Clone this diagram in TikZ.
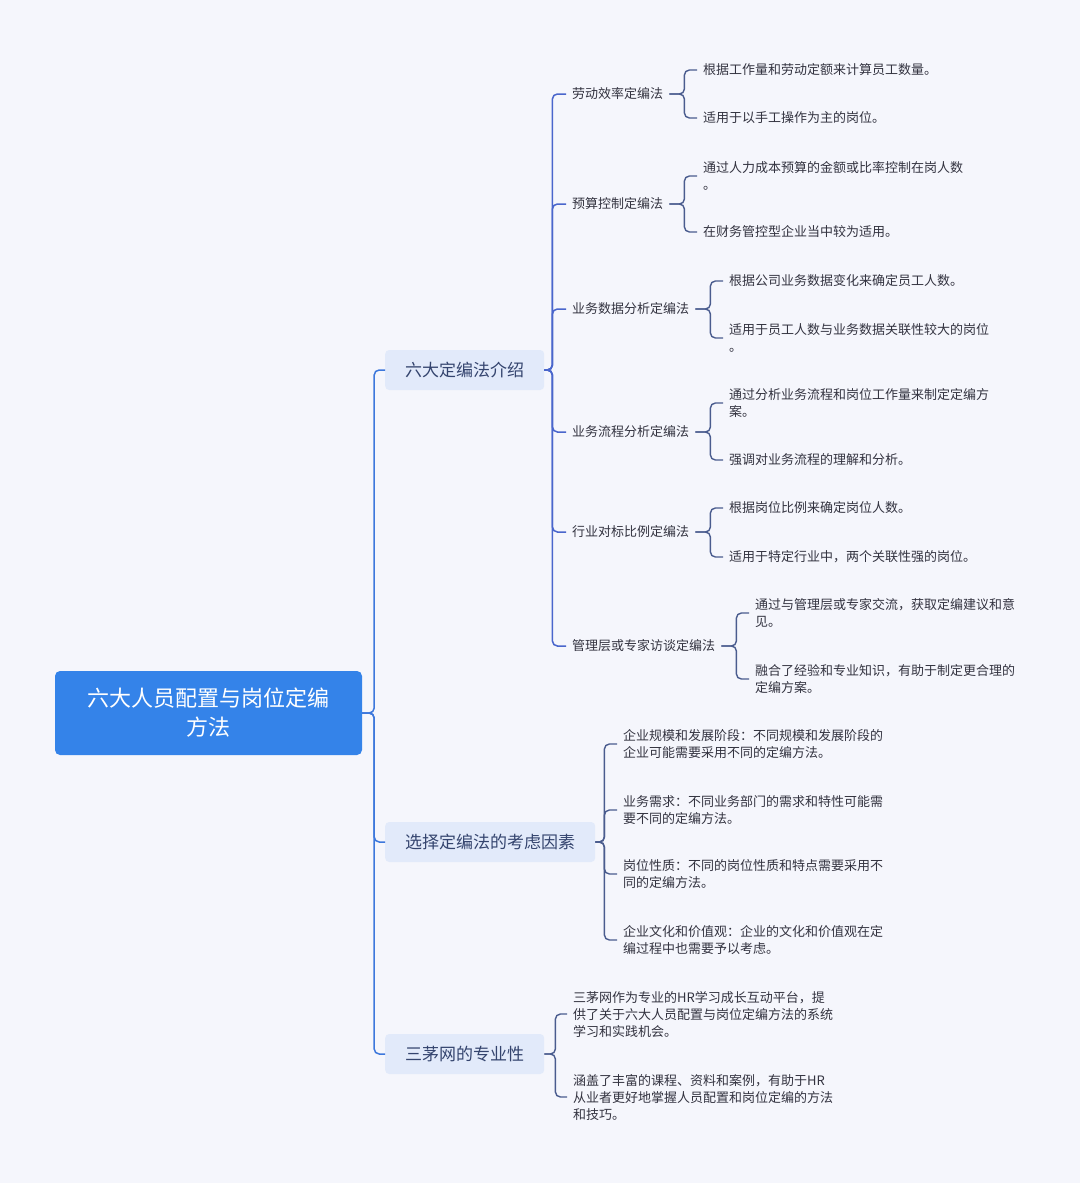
\documentclass[tikz,border=0pt]{standalone}
\usepackage{fontspec}
\setmainfont{Noto Sans CJK SC}
\usetikzlibrary{calc}
\definecolor{bg}{HTML}{F5F6FC}
\definecolor{rootblue}{HTML}{3483E9}
\definecolor{l1fill}{HTML}{E2EAFA}
\definecolor{l1text}{HTML}{34446E}
\definecolor{txt}{HTML}{333340}
\definecolor{trunk}{HTML}{3D78DC}
\definecolor{trunkb}{HTML}{4A66CC}
\definecolor{brk}{HTML}{4A5C8E}
\begin{document}
\begin{tikzpicture}[x=1pt,y=-1pt,
  rootnode/.style={fill=rootblue, text=white, rounded corners=5pt, minimum width=307pt, minimum height=84pt, align=center, font=\fontsize{22}{29}\selectfont, inner sep=0pt},
  lonenode/.style={fill=l1fill, text=l1text, rounded corners=4pt, minimum height=40pt, inner xsep=20pt, font=\fontsize{17}{22}\selectfont, anchor=west},
  ltwonode/.style={text=txt, inner xsep=6pt, inner ysep=2pt, font=\fontsize{13}{17}\selectfont, anchor=west},
  leaf/.style={text=txt, inner xsep=6pt, inner ysep=2pt, align=left, font=\fontsize{13}{17}\selectfont, anchor=west},
  cone/.style={draw=trunk, line width=1.5pt, rounded corners=5pt},
  ctwo/.style={draw=trunkb, line width=1.5pt, rounded corners=5pt},
  cbr/.style={draw=brk, line width=1.4pt, rounded corners=5pt}
]
\fill[bg] (0,0) rectangle (1080,1183);

% root
\node[rootnode] (root) at (208.5,713) {六大人员配置与岗位定编\\方法};

% level 1
\node[lonenode] (la) at (385,370) {六大定编法介绍};
\node[lonenode] (lb) at (385,842) {选择定编法的考虑因素};
\node[lonenode] (lc) at (385,1054) {三茅网的专业性};

\foreach \c in {la,lb,lc} \draw[cone] (root.east) -- ++(12,0) |- (\c.west);

% level 2 under la
\node[ltwonode] (ma) at (566,94) {劳动效率定编法};
\node[ltwonode] (mb) at (566,204) {预算控制定编法};
\node[ltwonode] (mc) at (566,309) {业务数据分析定编法};
\node[ltwonode] (md) at (566,432) {业务流程分析定编法};
\node[ltwonode] (me) at (566,532) {行业对标比例定编法};
\node[ltwonode] (mf) at (566,646) {管理层或专家访谈定编法};

\foreach \c in {ma,mb,mc,md,me,mf} \draw[ctwo] (la.east) -- ++(8,0) |- (\c.west);

% leaves
\node[leaf] (aa) at (697,70) {根据工作量和劳动定额来计算员工数量。};
\node[leaf] (ab) at (697,118) {适用于以手工操作为主的岗位。};
\node[leaf] (ba) at (697,176) {通过人力成本预算的金额或比率控制在岗人数\\。};
\node[leaf] (bb) at (697,232) {在财务管控型企业当中较为适用。};
\node[leaf] (ca) at (723,281) {根据公司业务数据变化来确定员工人数。};
\node[leaf] (cb) at (723,338) {适用于员工人数与业务数据关联性较大的岗位\\。};
\node[leaf] (da) at (723,403) {通过分析业务流程和岗位工作量来制定定编方\\案。};
\node[leaf] (db) at (723,460) {强调对业务流程的理解和分析。};
\node[leaf] (ea) at (723,508) {根据岗位比例来确定岗位人数。};
\node[leaf] (eb) at (723,557) {适用于特定行业中，两个关联性强的岗位。};
\node[leaf] (fa) at (749,613) {通过与管理层或专家交流，获取定编建议和意\\见。};
\node[leaf] (fb) at (749,679) {融合了经验和专业知识，有助于制定更合理的\\定编方案。};

\foreach \p/\c in {ma/aa,ma/ab,mb/ba,mb/bb,mc/ca,mc/cb,md/da,md/db,me/ea,me/eb,mf/fa,mf/fb}
  \draw[cbr] (\p.east) -- ++(15,0) |- (\c.west);

\node[leaf] (ga) at (617,744) {企业规模和发展阶段：不同规模和发展阶段的\\企业可能需要采用不同的定编方法。};
\node[leaf] (gb) at (617,810) {业务需求：不同业务部门的需求和特性可能需\\要不同的定编方法。};
\node[leaf] (gc) at (617,874) {岗位性质：不同的岗位性质和特点需要采用不\\同的定编方法。};
\node[leaf] (gd) at (617,940) {企业文化和价值观：企业的文化和价值观在定\\编过程中也需要予以考虑。};
\foreach \c in {ga,gb,gc,gd} \draw[cbr] (lb.east) -- ++(9,0) |- (\c.west);

\node[leaf] (ha) at (567,1014) {三茅网作为专业的HR学习成长互动平台，提\\供了关于六大人员配置与岗位定编方法的系统\\学习和实践机会。};
\node[leaf] (hb) at (567,1097) {涵盖了丰富的课程、资料和案例，有助于HR\\从业者更好地掌握人员配置和岗位定编的方法\\和技巧。};
\foreach \c in {ha,hb} \draw[cbr] (lc.east) -- ++(11,0) |- (\c.west);
\end{tikzpicture}
\end{document}
